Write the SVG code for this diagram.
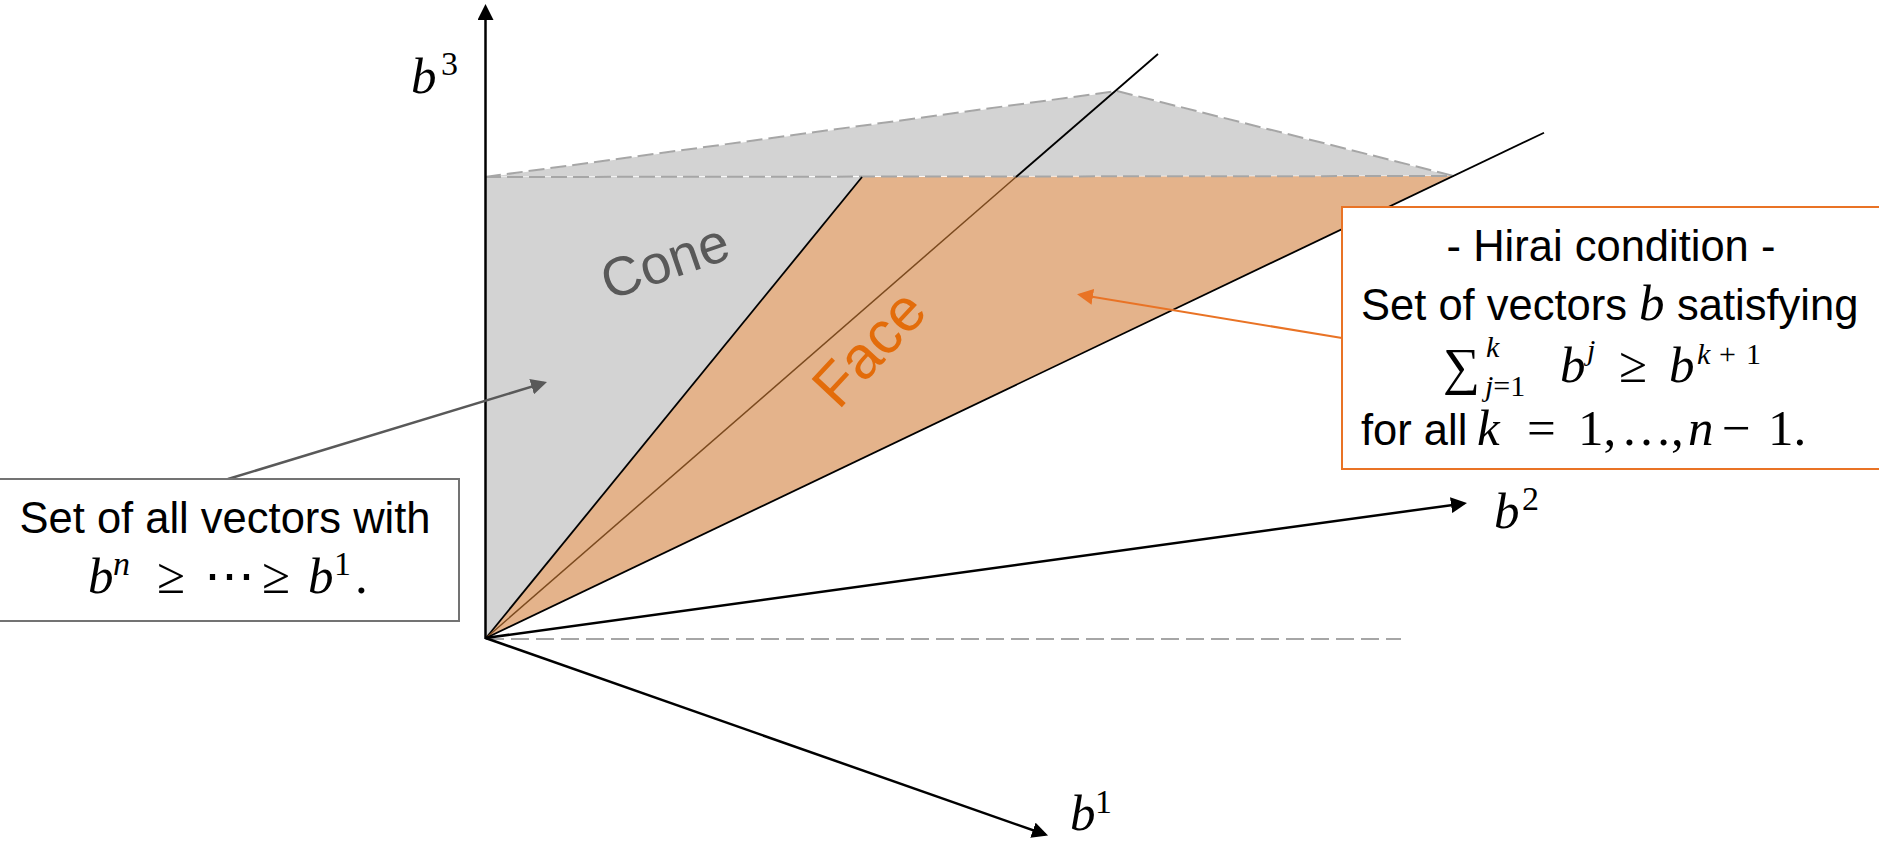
<svg xmlns="http://www.w3.org/2000/svg" width="1879" height="843" viewBox="0 0 1879 843">
<style>
.sans{font-family:"Liberation Sans",Arial,sans-serif;font-size:43.5px;fill:#000}
.math{font-family:"Liberation Serif","Times New Roman","DejaVu Serif",serif;font-size:51px;fill:#000}
.it{font-style:italic}
.sup{font-size:34px}
.sm{font-size:30px}
.axis{stroke:#000;stroke-width:2.5;fill:none}
.edge{stroke:#000;stroke-width:1.8;fill:none}
.dash{stroke:#a6a6a6;stroke-width:2;stroke-dasharray:16 6;fill:none}
.dash2{stroke:#a6a6a6;stroke-width:2;stroke-dasharray:18 7;fill:none}
</style>
<defs>
<marker id="ah" markerUnits="userSpaceOnUse" viewBox="0 0 16 16" refX="13" refY="8" markerWidth="16" markerHeight="16" orient="auto"><path d="M0,0 L16,8 L0,16 z" fill="#000"/></marker>
<marker id="ahGray" markerUnits="userSpaceOnUse" viewBox="0 0 16 16" refX="13" refY="8" markerWidth="16" markerHeight="16" orient="auto"><path d="M0,0 L16,8 L0,16 z" fill="#595959"/></marker>
<marker id="ahOrange" markerUnits="userSpaceOnUse" viewBox="0 0 16 16" refX="13" refY="8" markerWidth="16" markerHeight="16" orient="auto"><path d="M0,0 L16,8 L0,16 z" fill="#e97325"/></marker>
</defs>
<rect width="1879" height="843" fill="#fff"/>

<g id="regions">
<polygon points="485,177 1117,91 1454,176" fill="#d3d3d3" stroke="#fff" stroke-width="1"/>
<polygon points="486,638 486,177 862,177" fill="#d3d3d3"/>
<polygon points="486,638 862,177 1454,176" fill="#e4b38b"/>
<line class="dash" x1="485" y1="177" x2="1117" y2="91"/>
<line class="dash" x1="1117" y1="91" x2="1454" y2="176"/>
<line class="dash" x1="485" y1="177" x2="1454" y2="176"/>
<line class="dash2" x1="486" y1="639" x2="1401" y2="639"/>
<line class="edge" x1="486" y1="638" x2="862" y2="177"/>
<line stroke="#7b4a1f" stroke-width="1.5" x1="486" y1="638" x2="1016" y2="177"/>
<line class="edge" x1="1016" y1="177" x2="1158" y2="54"/>
<line class="edge" x1="486" y1="638" x2="1544" y2="132.7"/>
</g>

<g id="axes">
<line class="axis" x1="485.5" y1="639" x2="485.5" y2="7" marker-end="url(#ah)"/>
<line class="axis" x1="485.5" y1="638" x2="1464" y2="503.4" marker-end="url(#ah)"/>
<line class="axis" x1="485.5" y1="638" x2="1045.2" y2="834.5" marker-end="url(#ah)"/>
<text class="math"><tspan class="it" x="411" y="93">b</tspan><tspan class="sup" x="441" y="75">3</tspan></text>
<text class="math"><tspan class="it" x="1494" y="528">b</tspan><tspan class="sup" x="1522" y="510">2</tspan></text>
<text class="math"><tspan class="it" x="1070" y="830">b</tspan><tspan class="sup" x="1095" y="813">1</tspan></text>
</g>

<g id="labels">
<text transform="translate(671,279) rotate(-19)" text-anchor="middle" font-family="Liberation Sans, Arial, sans-serif" font-size="55" fill="#595959">Cone</text>
<text transform="translate(884,362) rotate(-47)" text-anchor="middle" font-family="Liberation Sans, Arial, sans-serif" font-size="60" fill="#e36c0a">Face</text>
</g>

<g id="connectors">
<line stroke="#595959" stroke-width="2.5" x1="228" y1="479" x2="544.1" y2="382.9" marker-end="url(#ahGray)"/>
<line stroke="#e97325" stroke-width="2" x1="1342" y1="338" x2="1080" y2="294.8" marker-end="url(#ahOrange)"/>
</g>

<g id="node-ordered">
<rect x="-2" y="479" width="461" height="142" fill="#fff" stroke="#737373" stroke-width="2"/>
<text class="sans" x="225" y="533" text-anchor="middle">Set of all vectors with</text>
<text class="math"><tspan class="it" x="88" y="593">b</tspan><tspan class="it sup" x="113" y="575">n</tspan><tspan x="157" y="593">≥</tspan><tspan x="204" y="593">⋯</tspan><tspan x="262" y="593">≥</tspan><tspan class="it" x="308" y="593">b</tspan><tspan class="sup" x="334" y="575">1</tspan><tspan x="355" y="593">.</tspan></text>
</g>

<g id="node-hirai">
<rect x="1342" y="207" width="540" height="262" fill="#fff" stroke="#e97325" stroke-width="2"/>
<text class="sans" x="1611" y="261" text-anchor="middle">- Hirai condition -</text>
<text class="sans" x="1361" y="320">Set of vectors</text>
<text class="math it" x="1639" y="320">b</text>
<text class="sans" x="1677" y="320">satisfying</text>
<text class="math"><tspan x="1443" y="384" font-size="52">∑</tspan></text>
<text class="math sm"><tspan class="it" x="1486" y="357">k</tspan></text>
<text class="math sm"><tspan class="it" x="1485" y="396">j</tspan><tspan>=1</tspan></text>
<text class="math"><tspan class="it" x="1560" y="382">b</tspan><tspan class="it sm" x="1587" y="360">j</tspan><tspan x="1619" y="382">≥</tspan><tspan class="it" x="1669" y="382">b</tspan><tspan class="it sm" x="1697" y="364">k</tspan><tspan class="sm" x="1719" y="364">+</tspan><tspan class="sm" x="1746" y="364">1</tspan></text>
<text class="sans" x="1361" y="445">for all</text>
<text class="math"><tspan class="it" x="1477" y="445">k</tspan><tspan x="1527" y="445">=</tspan><tspan x="1578" y="445">1,</tspan><tspan x="1621" y="445">…</tspan><tspan x="1671" y="445">,</tspan><tspan class="it" x="1688" y="445">n</tspan><tspan x="1722" y="445">−</tspan><tspan x="1768" y="445">1.</tspan></text>
</g>
</svg>
